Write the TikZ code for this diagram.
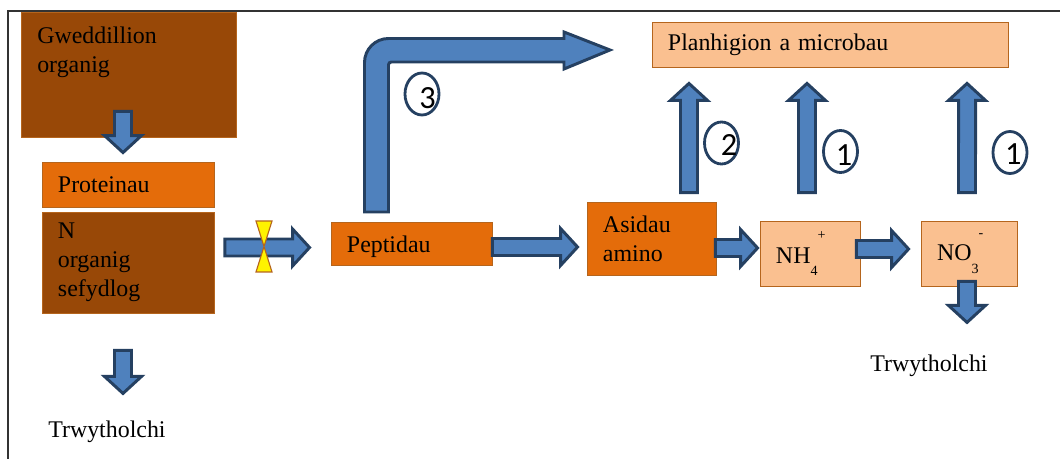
\documentclass[tikz,border=0pt]{standalone}
\usepackage{fontspec}
\setmainfont{Liberation Serif}
\newfontfamily\numfont{Carlito}
\usetikzlibrary{shapes,calc}
\definecolor{soilbrown}{HTML}{984807}
\definecolor{boxorange}{HTML}{E46C0A}
\definecolor{boxpeach}{HTML}{FAC090}
\definecolor{boxline}{HTML}{B5651D}
\definecolor{arrowfill}{HTML}{4F81BD}
\definecolor{arrowline}{HTML}{254061}
\definecolor{framegray}{HTML}{333333}
\tikzstyle{pool} = [rectangle, draw=boxline, line width=0.6pt, align=left, inner xsep=0.4cm, inner ysep=0pt]
\tikzstyle{soil} = [pool, fill=soilbrown]
\tikzstyle{orgn} = [pool, fill=boxorange]
\tikzstyle{mineral} = [pool, fill=boxpeach]
\tikzset{route/.style n args={3}{ellipse, draw=arrowline, line width=2pt, minimum width=0.85cm, minimum height=1.05cm, inner sep=0pt, label={[font=\numfont\fontsize{23}{23}\selectfont, inner sep=0pt, xshift=#2, yshift=#3]center:#1}}}
\newcommand{\ionup}[1]{\raisebox{16.6pt}{\fontsize{10}{12}\selectfont #1}}
\newcommand{\iondown}[1]{\raisebox{-8.7pt}{\fontsize{10}{12}\selectfont #1}}

\begin{document}
\begin{tikzpicture}[x=0.025cm, y=-0.025cm, font=\fontsize{17}{20.5}\selectfont]
	\tikzset{barrow/.style={draw=arrowline, fill=arrowfill, line width=2.1pt, line join=miter, to path={
		($(\tikztostart)!0.2125cm!90:(\tikztotarget)$) --
		($($(\tikztotarget)!0.425cm!(\tikztostart)$)!0.2125cm!90:(\tikztotarget)$) --
		($($(\tikztotarget)!0.425cm!(\tikztostart)$)!0.4625cm!90:(\tikztotarget)$) --
		(\tikztotarget) --
		($($(\tikztotarget)!0.425cm!(\tikztostart)$)!0.4625cm!-90:(\tikztotarget)$) --
		($($(\tikztotarget)!0.425cm!(\tikztostart)$)!0.2125cm!-90:(\tikztotarget)$) --
		($(\tikztostart)!0.2125cm!-90:(\tikztotarget)$) -- cycle}}}
	\useasboundingbox (0,0) rectangle (1060,459);
	\draw [framegray, line width=1.4pt] (8,459) -- (8,11) -- (1060,11);
	\node [soil, minimum width=5.375cm, minimum height=3.125cm] (gwedd) at (128.5,74.5) {};
	\node [anchor=north west, align=left, inner sep=0pt] (gweddtxt) at (37,27) {Gweddillion\\organig};
	\node [orgn, text width=3.5cm, minimum height=1.125cm] (prot) at (128,184.5) {Proteinau};
	\node [soil, text width=3.5cm, minimum height=2.525cm] (nbox) at (128,262.5) {N\\organig\\sefydlog};
	\node [orgn, text width=3.225cm, text height=14pt, text depth=0.5pt, minimum height=1.075cm] (pep) at (411.5,243.5) {Peptidau};
	\node [orgn, text width=2.425cm, minimum height=1.825cm] (asid) at (651.5,238.5) {Asidau\\amino};
	\node [mineral, text width=1.7cm, minimum height=1.625cm] (nh) at (810,253.5) {NH\iondown{4}\ionup{+}};
	\node [mineral, text width=1.6cm, minimum height=1.625cm] (no) at (969,253.5) {NO\iondown{3}\ionup{-}};
	\node [mineral, text width=8.1cm, minimum height=1.125cm] (plant) at (830,44.5) {Planhigion a microbau};
	\node [anchor=base west, inner sep=0pt] (leachl) at (48,437) {Trwytholchi};
	\node [anchor=base west, inner sep=0pt] (leachr) at (870,371) {Trwytholchi};
	\draw [barrow] ([xshift=-0.1375cm, yshift=0.65cm]gwedd.south) to ([xshift=-0.125cm, yshift=0.225cm]prot.north);
	\draw [barrow] ([xshift=-0.125cm, yshift=-0.925cm]nbox.south) to ([xshift=-0.125cm, yshift=-2cm]nbox.south);
	\draw [barrow] ([xshift=0.2625cm, yshift=0.375cm]nbox.east) to ([xshift=-0.525cm, yshift=-0.1cm]pep.west);
	\draw [barrow] ([yshift=-0.0875cm]pep.east) to ([xshift=-0.225cm, yshift=-0.2125cm]asid.west);
	\draw [barrow] ([xshift=-0.025cm, yshift=-0.2375cm]asid.east) to ([xshift=-0.05cm, yshift=0.1375cm]nh.west);
	\draw [barrow] ([xshift=-0.1cm, yshift=0.1125cm]nh.east) to ([xshift=-0.3cm, yshift=0.1125cm]no.west);
	\draw [barrow] ([xshift=-0.05cm, yshift=0.125cm]no.south) to ([xshift=-0.05cm, yshift=-0.9cm]no.south);
	\draw [barrow] ([xshift=0.9375cm, yshift=0.225cm]asid.north) to ([xshift=-3.525cm, yshift=-0.4cm]plant.south);
	\draw [barrow] ([xshift=-0.075cm, yshift=0.7cm]nh.north) to ([xshift=-0.575cm, yshift=-0.4cm]plant.south);
	\draw [barrow] ([xshift=-0.05cm, yshift=0.7cm]no.north) to ([xshift=3.425cm, yshift=-0.4cm]plant.south);
	\draw [draw=arrowline, fill=arrowfill, line width=2.1pt, line join=miter] (364.5,212) [rounded corners=0.6cm] -- (364.5,38.5) [sharp corners] -- (564,38.5) -- (564,32) -- (610,50) -- (564,69) -- (564,62) [rounded corners=2pt] -- (388.5,62) [sharp corners] -- (388.5,212) -- cycle;
	\draw [draw=boxline, fill=yellow, line width=0.8pt, line join=miter] (256,221) -- (272,221) -- (256,272) -- (272,272) -- cycle;
	\node [route={3}{0.14cm}{-0.1cm}] (c3) at (422,94) {};
	\node [route={2}{0.19cm}{-0.05cm}] (c2) at (721.5,143) {};
	\node [route={1}{0.09cm}{-0.09cm}] (c1a) at (840.5,151.5) {};
	\node [route={1}{0.08cm}{-0.05cm}] (c1b) at (1010,152.5) {};
\end{tikzpicture}
\end{document}
